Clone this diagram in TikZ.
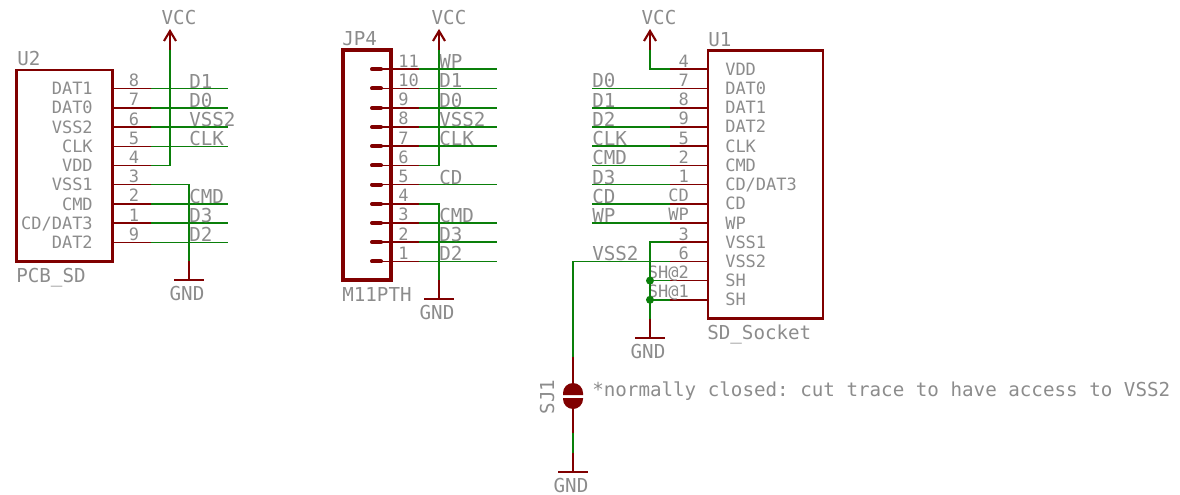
\documentclass[tikz,border=0pt]{standalone}
\usepackage{fontspec}
\usetikzlibrary{calc}
\setmonofont{DejaVu Sans Mono}
\begin{document}
\begin{tikzpicture}[x=0.75pt,y=-0.75pt,
  bigtxt/.style={font=\ttfamily\fontsize{14.4}{15}\selectfont,text=txtgray,inner sep=0pt,anchor=base west},
  smalltxt/.style={font=\ttfamily\fontsize{12.75}{14}\selectfont,text=txtgray,inner sep=0pt,anchor=base east},
  smallleft/.style={smalltxt,anchor=base west},
  bigcenter/.style={bigtxt,anchor=base},
  smallcenter/.style={smalltxt,anchor=base},
  partbox/.style={draw=sred,line width=1.9pt,inner sep=0pt,outer sep=0pt,anchor=north west,fill=none,line join=miter},
  pinline/.style={draw=sred,line width=1.2pt},
  net/.style={draw=sgreen,line width=1.2pt,line join=miter},
  gndbar/.style={draw=sred,line width=1.6pt},
  supply/.style={draw=sred,line width=1.6pt,line join=miter},
  junction/.style={circle,fill=sgreen,inner sep=0pt,minimum size=6pt},
  ]
\definecolor{sred}{HTML}{800000}
\definecolor{sgreen}{HTML}{0A7F0A}
\definecolor{txtgray}{HTML}{8C8C8C}
\useasboundingbox (0,0) rectangle (1180,495);
\fill[white] (0,0) rectangle (1180,495);

% ---------- U2 ----------
\node[partbox,minimum width=96*0.75pt,minimum height=191.5*0.75pt] (U2) at (16.5,70) {};
\node[bigtxt] (U2name) at (17,65.5) {U2};
\node[bigtxt] (U2val) at (16,282) {PCB\_SD};
\foreach \y/\nm/\num/\id in {88.7/DAT1/8/a,108/DAT0/7/b,127.2/VSS2/6/c,146.4/CLK/5/d,165.5/VDD/4/e,184.7/VSS1/3/f,204/CMD/2/g,223.2/{CD/DAT3}/1/h,242.4/DAT2/9/i}{
  \coordinate (U2\id) at (113,\y);
  \coordinate (U2\id m) at (151,\y);
  \draw[pinline] (U2\id) -- (U2\id m);
  \node[smalltxt] (U2name\id) at (93,\y+6) {\nm};
  \node[smallcenter] (U2num\id) at (134,\y-2) {\num};
}
\foreach \id/\lab in {a/D1,b/D0,c/VSS2,d/CLK,g/CMD,h/D3,i/D2}{
  \coordinate (U2\id e) at (228,0 |- U2\id);
  \draw[net] (U2\id m) -- (U2\id e);
  \node[bigtxt] (U2lab\id) at ($(189,0 |- U2\id)+(0,-0.5)$) {\lab};
}
% U2 VCC
\coordinate (VA) at (170,31);
\coordinate (VAs) at (170,50);
\node[bigcenter] (VAt) at (179,24.5) {VCC};
\draw[net] (U2em) -| (VAs);
\draw[supply] (VAs) -- (VA);
\draw[supply] ($(VA)+(-6,10)$) -- (VA) -- ($(VA)+(6,10)$);
% U2 GND
\coordinate (GAs) at (189,261);
\coordinate (GA) at (189,280);
\node[bigcenter] (GAt) at (187,300.5) {GND};
\draw[net] (U2fm) -| (GAs);
\draw[pinline] (GAs) -- (GA);
\draw[gndbar] ($(GA)+(-15,0)$) -- ($(GA)+(15,0)$);

% ---------- JP4 ----------
\node[partbox,line width=2.9pt,minimum width=48*0.75pt,minimum height=230*0.75pt] (JP) at (343,50) {};
\node[bigtxt] (JPname) at (342,45.5) {JP4};
\node[bigtxt] (JPval) at (342,301.5) {M11PTH};
\foreach \y/\num/\id in {69.3/11/a,88.5/10/b,108/9/c,127/8/d,146.2/7/e,165.4/6/f,184.6/5/g,204/4/h,223/3/i,242.2/2/j,261.4/1/k}{
  \coordinate (JP\id s) at (372,\y);
  \coordinate (JP\id) at (381,\y);
  \coordinate (JP\id m) at (419,\y);
  \draw[sred,line width=3pt,line cap=round] (JP\id s) -- (JP\id);
  \draw[pinline] (JP\id) -- (JP\id m);
  \node[smallleft] (JPnum\id) at (398,\y-2) {\num};
}
\foreach \id/\lab in {a/WP,b/D1,c/D0,d/VSS2,e/CLK,g/CD,i/CMD,j/D3,k/D2}{
  \coordinate (JP\id e) at (497,0 |- JP\id);
  \draw[net] (JP\id m) -- (JP\id e);
  \node[bigtxt] (JPlab\id) at ($(439,0 |- JP\id)+(0,-0.5)$) {\lab};
}
\coordinate (VB) at (439,31);
\coordinate (VBs) at (439,50);
\node[bigcenter] (VBt) at (449,24.5) {VCC};
\draw[net] (JPfm) -| (VBs);
\draw[supply] (VBs) -- (VB);
\draw[supply] ($(VB)+(-6,10)$) -- (VB) -- ($(VB)+(6,10)$);
\coordinate (GBs) at (439,280);
\coordinate (GB) at (439,299);
\node[bigcenter] (GBt) at (437,319.5) {GND};
\draw[net] (JPhm) -| (GBs);
\draw[pinline] (GBs) -- (GB);
\draw[gndbar] ($(GB)+(-15,0)$) -- ($(GB)+(15,0)$);

% ---------- U1 ----------
\node[partbox,minimum width=115*0.75pt,minimum height=268*0.75pt] (U1) at (708,50.5) {};
\node[bigtxt] (U1name) at (708,47) {U1};
\node[bigtxt] (U1val) at (707,339) {SD\_Socket};
\foreach \y/\nm/\num/\id in {69.3/VDD/4/a,88.5/DAT0/7/b,108/DAT1/8/c,127/DAT2/9/d,146.2/CLK/5/e,165.4/CMD/2/f,184.6/{CD/DAT3}/1/g,203.8/CD/CD/h,223/WP/WP/i,242.2/VSS1/3/j,261.4/VSS2/6/k,280.6/SH/SH@2/l,299.8/SH/SH@1/m}{
  \coordinate (U1\id) at (707,\y);
  \coordinate (U1\id m) at (670,\y);
  \draw[pinline] (U1\id) -- (U1\id m);
  \node[smallleft] (U1name\id) at (725,\y+6) {\nm};
  \node[smalltxt] (U1num\id) at (689,\y-2) {\num};
}
\foreach \id/\lab in {b/D0,c/D1,d/D2,e/CLK,f/CMD,g/D3,h/CD,i/WP}{
  \coordinate (U1\id e) at (592,0 |- U1\id);
  \draw[net] (U1\id m) -- (U1\id e);
  \node[bigtxt] (U1lab\id) at ($(592,0 |- U1\id)+(0,-0.5)$) {\lab};
}
\coordinate (VC) at (650,31);
\coordinate (VCs) at (650,50);
\node[bigcenter] (VCt) at (659,24.5) {VCC};
\draw[net] (U1am) -| (VCs);
\draw[supply] (VCs) -- (VC);
\draw[supply] ($(VC)+(-6,10)$) -- (VC) -- ($(VC)+(6,10)$);
% GND of U1
\coordinate (GCs) at (650,319);
\coordinate (GC) at (650,338);
\node[bigcenter] (GCt) at (648,358) {GND};
\draw[net] (U1jm) -| (GCs);
\draw[net] (U1lm) -- (650,0 |- U1lm);
\draw[net] (U1mm) -- (650,0 |- U1mm);
\node[junction] (J2) at (650,0 |- U1lm) {};
\node[junction] (J1) at (650,0 |- U1mm) {};
\draw[pinline] (GCs) -- (GC);
\draw[gndbar] ($(GC)+(-15,0)$) -- ($(GC)+(15,0)$);
% VSS2 and solder jumper
\node[bigtxt] (U1labk) at (592,260.5) {VSS2};
\coordinate (SJt) at (573,357);
\coordinate (SJa) at (573,384);
\coordinate (SJb) at (573,409);
\coordinate (SJm) at (573,433);
\coordinate (SJn) at (573,453);
\coordinate (GD) at (573,472);
\draw[net] (U1km) -| (SJt);
\draw[pinline] (SJt) -- (SJa);
\fill[sred] (563,395) -- (563,393) arc[start angle=180,end angle=0,radius=7.5pt] -- (583,395) -- cycle;
\fill[sred] (563,398) -- (583,398) -- (583,399) arc[start angle=0,end angle=-180,radius=7.5pt] -- cycle;
\draw[pinline] (SJb) -- (SJm);
\draw[net] (SJm) -- (SJn);
\draw[pinline] (SJn) -- (GD);
\draw[gndbar] ($(GD)+(-15,0)$) -- ($(GD)+(15,0)$);
\node[bigcenter] (GDt) at (571,492) {GND};
\node[bigcenter,rotate=90] (SJname) at (554,397) {SJ1};
\node[bigtxt] (note) at (592,396) {*normally closed: cut trace to have access to VSS2};
\end{tikzpicture}
\end{document}
